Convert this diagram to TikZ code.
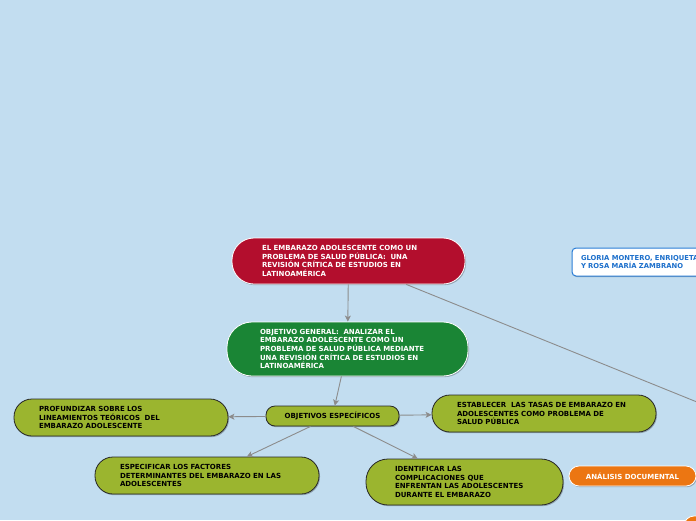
\documentclass[tikz,border=0pt]{standalone}
\usepackage{fontspec}
\setmainfont{DejaVu Sans}
\usetikzlibrary{arrows.meta,shadows}
\definecolor{bgblue}{HTML}{C2DDF0}
\definecolor{mapred}{HTML}{B30E2D}
\definecolor{mapgreen}{HTML}{1A8535}
\definecolor{mapolive}{HTML}{9BB52F}
\definecolor{maporange}{HTML}{EC7612}
\definecolor{mapblue}{HTML}{2A7DD6}
\definecolor{mapbluetext}{HTML}{1C6FCB}
\definecolor{edgegray}{HTML}{8C8C8C}
\tikzset{
  txt/.style={font=\fontsize{7}{8.7}\selectfont\bfseries},
  shd/.style={drop shadow={shadow xshift=1pt,shadow yshift=-1.2pt,fill=black,opacity=0.25}},
  pill/.style={txt,shd,rectangle,inner sep=0pt,align=left},
  redbox/.style={pill,fill=mapred,draw=white,line width=0.8pt,text=white,rounded corners=22pt},
  greenbox/.style={pill,fill=mapgreen,draw=white,line width=0.8pt,text=white,rounded corners=25pt},
  olivebox/.style={pill,fill=mapolive,draw=black!85,line width=0.8pt,text=black,rounded corners=18pt},
  orangebox/.style={pill,fill=maporange,draw=white,line width=0.8pt,text=white,rounded corners=10pt,align=center},
  bluebox/.style={pill,fill=white,draw=mapblue,line width=1pt,text=mapbluetext,rounded corners=4pt},
  arr/.style={draw=edgegray,line width=0.9pt,-{Stealth[length=6pt,width=6pt,inset=1.5pt]}},
  ln/.style={draw=edgegray,line width=0.9pt}
}
\begin{document}
\begin{tikzpicture}[x=1pt,y=-1pt]
\useasboundingbox (0,0) rectangle (696,520);
\fill[bgblue] (0,0) rectangle (696,520);

\node[redbox,minimum width=233pt,minimum height=46pt,text width=173pt] (title) at (348.5,261)
  {EL EMBARAZO ADOLESCENTE COMO UN\\PROBLEMA DE SALUD PÚBLICA:\ \ UNA\\REVISIÓN CRÍTICA DE ESTUDIOS EN\\LATINOAMÉRICA};

\node[greenbox,minimum width=241pt,minimum height=54pt,text width=175pt] (gen) at (347.5,349)
  {OBJETIVO GENERAL:\ \ ANALIZAR EL\\EMBARAZO ADOLESCENTE COMO UN\\PROBLEMA DE SALUD PÚBLICA MEDIANTE\\UNA REVISIÓN CRÍTICA DE ESTUDIOS EN\\LATINOAMÉRICA};

\node[bluebox,minimum width=168pt,minimum height=28pt,text width=150pt,font=\fontsize{6.8}{8.7}\selectfont\bfseries] (auth) at (656,262)
  {GLORIA MONTERO, ENRIQUETA\\Y ROSA MARÍA ZAMBRANO};

\node[olivebox,minimum width=133pt,minimum height=20pt,rounded corners=9pt,align=center] (esp) at (332.5,416)
  {OBJETIVOS ESPECÍFICOS};

\node[olivebox,minimum width=214pt,minimum height=37pt,text width=164pt] (prof) at (121,417.5)
  {PROFUNDIZAR SOBRE LOS\\LINEAMIENTOS TEÓRICOS\ \ DEL\\EMBARAZO ADOLESCENTE};

\node[olivebox,minimum width=224pt,minimum height=37pt,text width=174pt] (est) at (544,413.5)
  {ESTABLECER\ \ LAS TASAS DE EMBARAZO EN\\ADOLESCENTES COMO PROBLEMA DE\\SALUD PÚBLICA};

\node[olivebox,minimum width=224pt,minimum height=37pt,text width=174pt] (fac) at (207,475.5)
  {ESPECIFICAR LOS FACTORES\\DETERMINANTES DEL EMBARAZO EN LAS\\ADOLESCENTES};

\node[olivebox,minimum width=197pt,minimum height=46pt,text width=139pt,rounded corners=22pt] (ide) at (464.5,482)
  {IDENTIFICAR LAS\\COMPLICACIONES QUE\\ENFRENTAN LAS ADOLESCENTES\\DURANTE EL EMBARAZO};

\node[orangebox,minimum width=127pt,minimum height=20pt] (ana) at (632.5,476)
  {ANÁLISIS DOCUMENTAL};

\node[orangebox,minimum width=60pt,minimum height=20pt] (ana2) at (714,526) {};

\coordinate (off) at (760,427.5);

\draw[arr] (title) -- (gen);
\draw[arr] (gen) -- (esp);
\draw[arr] (esp) -- (prof);
\draw[arr] (esp) -- (est);
\draw[arr] (esp) -- (fac);
\draw[arr] (esp) -- (ide);
\draw[ln] (title) -- (off);
\end{tikzpicture}
\end{document}
